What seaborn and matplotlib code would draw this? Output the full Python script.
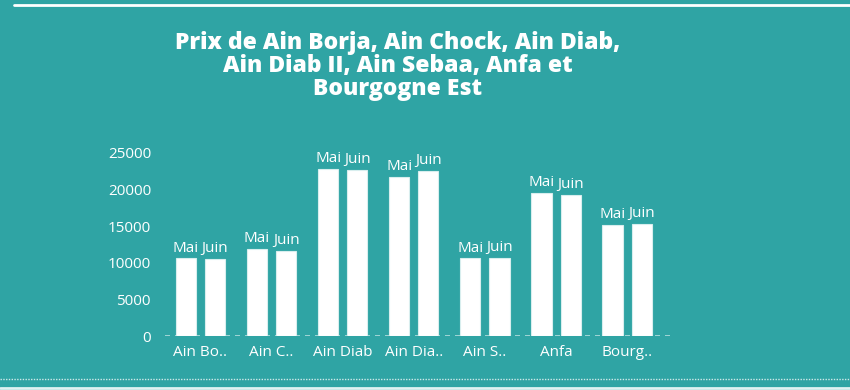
import numpy as np
import pandas as pd
import matplotlib
matplotlib.use('Agg')
import matplotlib.pyplot as plt
from matplotlib.lines import Line2D
import seaborn as sns

# valeurs
quartiers = ['Ain Borja', 'Ain Chock', 'Ain Diab', 'Ain Diab II', 'Ain Sebaa', 'Anfa', 'Bourgogne Est']
etiquettes = ['Ain Bo..', 'Ain C..', 'Ain Diab', 'Ain Dia..', 'Ain S..', 'Anfa', 'Bourg..']
mois = ['Mai', 'Juin']
prix_mai = [10600, 11870, 22820, 21730, 10600, 19550, 15140]
prix_juin = [10500, 11680, 22640, 22500, 10730, 19270, 15280]

FOND = '#2fa4a4'

df = pd.DataFrame({
    'quartier': quartiers * 2,
    'mois': ['Mai'] * len(quartiers) + ['Juin'] * len(quartiers),
    'prix': prix_mai + prix_juin,
})

sns.set_style('white')
plt.rcParams['font.family'] = ['Open Sans', 'DejaVu Sans']

fig = plt.figure(figsize=(8.5, 3.9), dpi=100, facecolor=FOND)
ax = fig.add_axes([0.194, 0.138, 0.594, 0.470])
ax.set_facecolor(FOND)

sns.barplot(data=df, x='quartier', y='prix', hue='mois', hue_order=mois,
            palette={'Mai': 'white', 'Juin': 'white'}, width=0.82, gap=0.31,
            edgecolor='#d8eeee', linewidth=0.8, legend=False, ax=ax)

for cont, m in zip(ax.containers, mois):
    ax.bar_label(cont, labels=[m] * len(quartiers), padding=2, color='white',
                 fontsize=11, clip_on=False)

ax.set_ylim(0, 25000)
ax.set_xlim(-0.5, 6.6)
ax.set_yticks([0, 5000, 10000, 15000, 20000, 25000])
ax.set_xticks(range(len(quartiers)))
ax.set_xticklabels(etiquettes)
ax.tick_params(axis='both', colors='white', labelsize=11, length=0)
ax.tick_params(axis='y', pad=10)
ax.tick_params(axis='x', pad=6)
ax.set_xlabel('')
ax.set_ylabel('')
for s in ax.spines.values():
    s.set_visible(False)
ax.axhline(0, color='#b5dede', lw=1.2, ls=(0, (3, 3)), zorder=0)

fig.text(0.468, 0.83, 'Prix de Ain Borja, Ain Chock, Ain Diab,\nAin Diab II, Ain Sebaa, Anfa et\nBourgogne Est',
         ha='center', va='center', color='white', fontsize=16.5, fontweight='heavy',
         linespacing=0.95)

# lignes décoratives
fig.add_artist(Line2D([0.016, 1.0], [0.987, 0.987], color='white', lw=2, transform=fig.transFigure))
fig.add_artist(Line2D([0.0, 1.0], [0.027, 0.027], color='#cfe9e9', lw=1, ls=(0, (1, 1)), transform=fig.transFigure))
fig.add_artist(Line2D([0.0, 1.0], [0.004, 0.004], color='#dff2f2', lw=2, transform=fig.transFigure))

fig.savefig('out.png', dpi=100, facecolor=FOND)
